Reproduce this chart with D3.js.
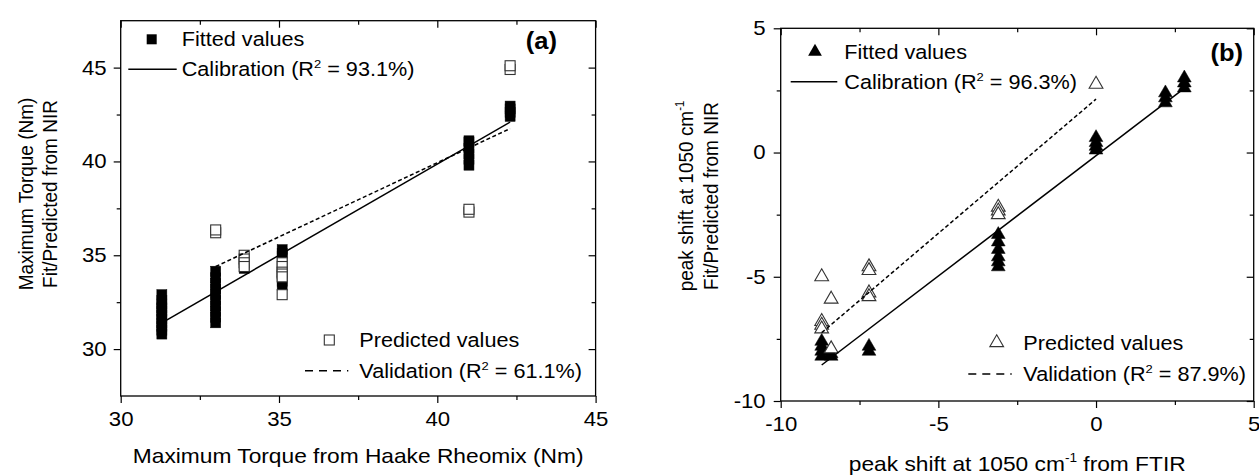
<!DOCTYPE html>
<html>
<head>
<meta charset="utf-8">
<script src="https://cdn.jsdelivr.net/npm/d3@7"></script>
<style>
  body { margin: 0; background: #fff; }
  svg text { font-family: "Liberation Sans", Arial, sans-serif; fill: #000; }
</style>
</head>
<body>
<svg id="chart" width="1259" height="476"></svg>
<script>
// ---- panel (a): maximum torque ----
let torqueLevels = [31.3, 33.0, 33.9, 35.1, 41.0, 42.3];
let torqueFitted = [
  [30.8, 31.0, 31.2, 31.4, 31.6, 31.8, 32.0, 32.2, 32.4, 32.6, 32.9],
  [31.4, 31.7, 32.0, 32.3, 32.6, 32.9, 33.2, 33.5, 33.8, 34.15],
  [34.3],
  [35.3, 35.1, 34.95, 33.6, 33.4],
  [39.8, 40.1, 40.4, 40.7, 41.0, 41.1],
  [42.4, 42.6, 42.8, 42.95]
];
let torquePredicted = [
  [],
  [36.2, 36.35],
  [35.0, 34.8, 34.6, 34.4],
  [34.6, 34.4, 34.1, 34.0, 33.85, 32.9],
  [37.3, 37.45],
  [44.9, 45.1]
];
let torqueCalibX = [31.3, 42.3], torqueCalibY = [31.4, 42.1];
let torqueValidX = [33.0, 42.3], torqueValidY = [34.4, 41.75];
let torqueTicks = [30, 35, 40, 45], torqueMinor = [32.5, 37.5, 42.5];

// ---- panel (b): peak shift ----
let shiftLevels = [-8.7, -8.4, -7.2, -3.1, 0, 2.2, 2.8];
let shiftFitted = [
  [-7.6, -7.8, -8.0, -8.2],
  [-8.1, -8.2],
  [-7.8, -8.0],
  [-3.3, -3.6, -3.9, -4.2, -4.4, -4.6],
  [0.6, 0.4, 0.25, 0.1],
  [2.4, 2.2, 2.0],
  [3.0, 2.8, 2.6]
];
let shiftPredicted = [
  [-5.0, -6.8, -6.95, -7.1],
  [-5.9, -7.9],
  [-4.6, -4.75, -5.65, -5.8],
  [-2.2, -2.35, -2.5],
  [2.75],
  [],
  []
];
let shiftCalibX = [-8.7, 2.87], shiftCalibY = [-8.55, 2.65];
let shiftValidX = [-8.7, 0], shiftValidY = [-7.25, 2.15];
let shiftTicks = [-10, -5, 0, 5], shiftMinor = [-7.5, -2.5, 2.5];

let svg = d3.select("#chart");
// the source figure is a little wider than tall, so all text is stretched sideways
let SX = 1.11;
let TICK_FONT = 20;
let LEGEND_FONT = 19.5;
let TITLE_FONT = 20.5;
let YTITLE_FONT = 19;

// text with optional superscript parts: ["abc", {sup: "2"}, "def"]
function addText(g, x, y, parts, size, opts) {
  opts = opts || {};
  let t = g.append("text")
    .attr("font-size", size)
    .attr("text-anchor", opts.anchor || "start")
    .attr("font-weight", opts.bold ? "bold" : null)
    .attr("transform", "translate(" + x + "," + y + ") scale(" + SX + ",1)" + (opts.rotate ? " rotate(-90)" : ""));
  let raised = false;
  parts.forEach(function(p) {
    if (typeof p === "string") {
      let s = t.append("tspan").text(p);
      if (raised) { s.attr("dy", size * 0.42); raised = false; }
    } else {
      t.append("tspan").text(p.sup)
        .attr("font-size", size * 0.6)
        .attr("dy", -size * 0.42);
      raised = true;
    }
  });
  return t;
}

function pointsOf(levels, groups) {
  let res = [];
  levels.forEach(function(lv, i) {
    groups[i].forEach(function(v) { res.push({x: lv, y: v}); });
  });
  return res;
}

function drawPanel(p) {
  let x = d3.scaleLinear().domain(p.xDomain).range([p.left, p.right]);
  let y = d3.scaleLinear().domain(p.yDomain).range([p.bottom, p.top]);
  let g = svg.append("g");
  let fmt = function(d) { return String(d); };

  function styleAxis(sel) {
    sel.select(".domain").remove();
    sel.selectAll("line").attr("stroke", "#000").attr("stroke-width", 1.2);
    sel.selectAll("text").attr("font-size", TICK_FONT).attr("font-family", null).attr("fill", "#000");
  }

  // bottom / left with labels (ticks outward)
  g.append("g").attr("transform", "translate(0," + p.bottom + ")")
    .call(d3.axisBottom(x).tickValues(p.xTicks).tickSize(7).tickPadding(9).tickFormat(fmt))
    .call(styleAxis)
    .selectAll("text").attr("transform", "scale(" + SX + ",1)");
  g.append("g").attr("transform", "translate(0," + p.bottom + ")")
    .call(d3.axisBottom(x).tickValues(p.xMinor).tickSize(4).tickFormat(""))
    .call(styleAxis);
  g.append("g").attr("transform", "translate(" + p.left + ",0)")
    .call(d3.axisLeft(y).tickValues(p.yTicks).tickSize(7).tickFormat(fmt))
    .call(styleAxis)
    .selectAll("text")
    .attr("x", -(7 + p.yPad) / SX)
    .attr("transform", "scale(" + SX + ",1)");
  g.append("g").attr("transform", "translate(" + p.left + ",0)")
    .call(d3.axisLeft(y).tickValues(p.yMinor).tickSize(4).tickFormat(""))
    .call(styleAxis);
  // top / right mirrored (ticks inward)
  g.append("g").attr("transform", "translate(0," + p.top + ")")
    .call(d3.axisTop(x).tickValues(p.xTicks).tickSize(-7).tickFormat(""))
    .call(styleAxis);
  g.append("g").attr("transform", "translate(0," + p.top + ")")
    .call(d3.axisTop(x).tickValues(p.xMinor).tickSize(-4).tickFormat(""))
    .call(styleAxis);
  g.append("g").attr("transform", "translate(" + p.right + ",0)")
    .call(d3.axisRight(y).tickValues(p.yTicks).tickSize(-7).tickFormat(""))
    .call(styleAxis);
  g.append("g").attr("transform", "translate(" + p.right + ",0)")
    .call(d3.axisRight(y).tickValues(p.yMinor).tickSize(-4).tickFormat(""))
    .call(styleAxis);

  g.append("rect")
    .attr("x", p.left).attr("y", p.top)
    .attr("width", p.right - p.left).attr("height", p.bottom - p.top)
    .attr("fill", "none").attr("stroke", "#000").attr("stroke-width", 1.3);

  // markers
  let tri = d3.symbol(d3.symbolTriangle).size(82);
  function marker(sel, filled) {
    if (p.shape === "square") {
      sel.append("rect")
        .attr("x", function(d) { return x(d.x) - 5; })
        .attr("y", function(d) { return y(d.y) - 5; })
        .attr("width", 10).attr("height", 10)
        .attr("fill", filled ? "#000" : "#fff")
        .attr("stroke", filled ? "#000" : "#333")
        .attr("stroke-width", filled ? 0.5 : 1.1);
    } else {
      sel.append("path")
        .attr("d", tri)
        .attr("transform", function(d) { return "translate(" + x(d.x) + "," + y(d.y) + ")"; })
        .attr("fill", filled ? "#000" : "#fff")
        .attr("stroke", filled ? "#000" : "#333")
        .attr("stroke-width", filled ? 0.5 : 1.1);
    }
  }

  let fitG = g.append("g").selectAll("g").data(pointsOf(p.levels, p.fitted)).enter().append("g");
  marker(fitG, true);
  let predG = g.append("g").selectAll("g").data(pointsOf(p.levels, p.predicted)).enter().append("g");
  marker(predG, false);

  let line = d3.line().x(function(d) { return x(d[0]); }).y(function(d) { return y(d[1]); });
  g.append("path")
    .datum(d3.zip(p.calibX, p.calibY))
    .attr("d", line).attr("fill", "none").attr("stroke", "#000").attr("stroke-width", 1.5);
  g.append("path")
    .datum(d3.zip(p.validX, p.validY))
    .attr("d", line).attr("fill", "none").attr("stroke", "#000").attr("stroke-width", 1.5)
    .attr("stroke-dasharray", "4,2.5");

  // legend
  let L = p.legend;
  let lg = g.append("g");
  if (p.shape === "square") {
    lg.append("rect").attr("x", L.mark1[0] - 5).attr("y", L.mark1[1] - 5).attr("width", 10).attr("height", 10).attr("fill", "#000");
    lg.append("rect").attr("x", L.mark2[0] - 5).attr("y", L.mark2[1] - 5).attr("width", 10).attr("height", 10)
      .attr("fill", "#fff").attr("stroke", "#333").attr("stroke-width", 1.1);
  } else {
    lg.append("path").attr("d", tri).attr("transform", "translate(" + L.mark1 + ")").attr("fill", "#000");
    lg.append("path").attr("d", tri).attr("transform", "translate(" + L.mark2 + ")")
      .attr("fill", "#fff").attr("stroke", "#333").attr("stroke-width", 1.1);
  }
  lg.append("line").attr("x1", L.line1[0]).attr("x2", L.line1[1]).attr("y1", L.line1[2]).attr("y2", L.line1[2])
    .attr("stroke", "#000").attr("stroke-width", 1.5);
  lg.append("line").attr("x1", L.line2[0]).attr("x2", L.line2[1]).attr("y1", L.line2[2]).attr("y2", L.line2[2])
    .attr("stroke", "#000").attr("stroke-width", 1.5).attr("stroke-dasharray", "8,6");

  addText(lg, L.textX1, L.mark1[1] + 7, ["Fitted values"], LEGEND_FONT);
  addText(lg, L.textX1, L.line1[2] + 7, ["Calibration (R", {sup: "2"}, " = " + p.calibR2 + ")"], LEGEND_FONT);
  addText(lg, L.textX2, L.mark2[1] + 7, ["Predicted values"], LEGEND_FONT);
  addText(lg, L.textX2, L.line2[2] + 7, ["Validation (R", {sup: "2"}, " = " + p.validR2 + ")"], LEGEND_FONT);

  addText(g, p.tag[0], p.tag[1], [p.tagText], 23, {anchor: "end", bold: true});

  // axis titles
  addText(g, (p.left + p.right) / 2, p.xTitleY, p.xTitle, TITLE_FONT, {anchor: "middle"});
  p.yTitles.forEach(function(t, i) {
    addText(g, p.yTitleX[i], p.yTitleMid, t, YTITLE_FONT, {anchor: "middle", rotate: true});
  });
}

drawPanel({
  left: 120.7, right: 595.6, top: 20.7, bottom: 396,
  xDomain: [30, 45], yDomain: [27.5, 47.5],
  xTicks: torqueTicks, xMinor: torqueMinor, yTicks: torqueTicks, yMinor: torqueMinor, yPad: 7,
  shape: "square",
  levels: torqueLevels, fitted: torqueFitted, predicted: torquePredicted,
  calibX: torqueCalibX, calibY: torqueCalibY, validX: torqueValidX, validY: torqueValidY,
  calibR2: "93.1%", validR2: "61.1%",
  legend: {mark1: [151.7, 39.3], line1: [128.3, 176.7, 69.3], textX1: 181.7,
           mark2: [329.3, 340], line2: [305, 348.3, 370.7], textX2: 359.3},
  tag: [557, 49], tagText: "(a)",
  xTitle: ["Maximum Torque from Haake Rheomix (Nm)"], xTitleY: 463,
  yTitles: [["Maximum Torque (Nm)"], ["Fit/Predicted from NIR"]], yTitleX: [33, 57], yTitleMid: 194
});

drawPanel({
  left: 780.7, right: 1253.7, top: 28.3, bottom: 401,
  xDomain: [-10, 5], yDomain: [-10, 5],
  xTicks: shiftTicks, xMinor: shiftMinor, yTicks: shiftTicks, yMinor: shiftMinor, yPad: 8,
  shape: "triangle",
  levels: shiftLevels, fitted: shiftFitted, predicted: shiftPredicted,
  calibX: shiftCalibX, calibY: shiftCalibY, validX: shiftValidX, validY: shiftValidY,
  calibR2: "96.3%", validR2: "87.9%",
  legend: {mark1: [815, 51.7], line1: [790.7, 837.3, 81.7], textX1: 844.3,
           mark2: [996.7, 342.7], line2: [968.3, 1011.7, 374], textX2: 1023.3},
  tag: [1243, 61], tagText: "(b)",
  xTitle: ["peak shift at 1050 cm", {sup: "-1"}, " from FTIR"], xTitleY: 471,
  yTitles: [["peak shift at 1050 cm", {sup: "-1"}], ["Fit/Predicted from NIR"]], yTitleX: [693, 718], yTitleMid: 196
});
</script>
</body>
</html>
